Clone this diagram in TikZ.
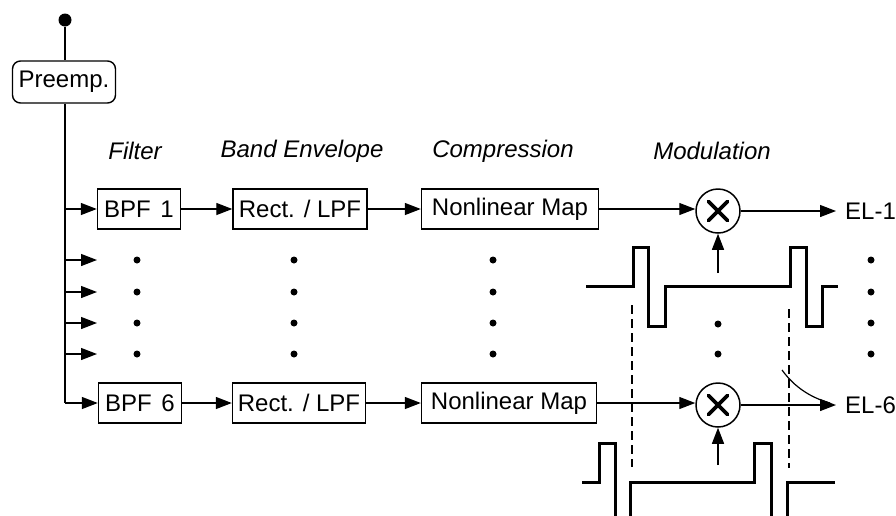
\documentclass[tikz,border=0pt]{standalone}
\usepackage{fontspec}
\setmainfont{Liberation Sans}
\usetikzlibrary{arrows.meta}
\begin{document}
\begin{tikzpicture}[x=1pt,y=-1pt,
  box/.style={draw,line width=1.4pt,minimum height=40pt,inner sep=0pt,font=\fontsize{24}{27}\selectfont},
  lab/.style={font=\fontsize{24}{27}\selectfont\itshape,inner sep=0pt},
  outlab/.style={font=\fontsize{24}{27}\selectfont,anchor=west,inner xsep=9pt,inner ysep=2pt},
  line/.style={line width=1.3pt},
  conn/.style={line width=1.3pt,-{Triangle[length=16pt,width=12pt]}},
  wave/.style={line width=3pt},
  mul/.style={draw,circle,line width=1.5pt,minimum size=44pt,inner sep=0pt},
  dashln/.style={line width=1.5pt,dash pattern=on 9pt off 5pt},
  dot/.style={circle,fill,inner sep=0pt,minimum size=7pt},
]
\useasboundingbox (0,0) rectangle (896,515);

% source and pre-emphasis
\node[circle,fill,inner sep=0pt,minimum size=13pt] (src) at (65,20) {};
\node[box,minimum width=103pt,minimum height=42pt,rounded corners=8pt] (pre) at (64,82) {Preemp.};
\coordinate (t1) at (65,209);
\coordinate (t6) at (65,403);
\draw[line] (src) -- (pre.north -| src);
\draw[line] (pre.south -| src) -- (t6);

% column labels
\node[lab] (lf) at (135,151) {Filter};
\node[lab] (lb) at (302,151) {Band Envelope};
\node[lab] (lc) at (503,151) {Compression};
\node[lab] (lm) at (712,151) {Modulation};

% row 1
\node[box,minimum width=83pt] (bpf1) at (139,209) {BPF\hspace{0.4em}1};
\node[box,minimum width=134pt] (rect1) at (300,209) {Rect. / LPF};
\node[box,minimum width=177pt] (nl1) at (510,209) {Nonlinear Map};
\node[mul] (mul1) at (718,211) {};
\node[outlab] (el1) at (836,211) {EL-1};
\draw[conn] (t1) -- (bpf1);
\draw[conn] (bpf1) -- (rect1);
\draw[conn] (rect1) -- (nl1);
\draw[conn] (nl1.east) -- (mul1.west |- nl1.east);
\draw[conn] (mul1) -- (el1);
\draw[line width=3.8pt,line cap=round] ([shift={(-9.5,-9.5)}]mul1.center) -- ([shift={(9.5,9.5)}]mul1.center)
  ([shift={(-9.5,9.5)}]mul1.center) -- ([shift={(9.5,-9.5)}]mul1.center);
\coordinate (c1) at (718,273);
\draw[conn] (c1) -- (mul1);

% row 6
\node[box,minimum width=83pt] (bpf6) at (140,403) {BPF\hspace{0.4em}6};
\node[box,minimum width=133pt] (rect6) at (299,403) {Rect. / LPF};
\node[box,minimum width=175pt] (nl6) at (509,403) {Nonlinear Map};
\node[mul] (mul6) at (718,405) {};
\node[outlab] (el6) at (836,405) {EL-6};
\draw[conn] (t6) -- (bpf6);
\draw[conn] (bpf6) -- (rect6);
\draw[conn] (rect6) -- (nl6);
\draw[conn] (nl6.east) -- (mul6.west |- nl6.east);
\draw[conn] (mul6) -- (el6);
\draw[line width=3.8pt,line cap=round] ([shift={(-9.5,-9.5)}]mul6.center) -- ([shift={(9.5,9.5)}]mul6.center)
  ([shift={(-9.5,9.5)}]mul6.center) -- ([shift={(9.5,-9.5)}]mul6.center);
\coordinate (c6) at (718,465);
\draw[conn] (c6) -- (mul6);

% intermediate channels
\foreach \y in {260,292,323,354}{
  \draw[conn] (65,\y) -- (97,\y);
  \node[dot] at (137,\y) {};
  \node[dot] at (294,\y) {};
  \node[dot] at (493,\y) {};
  \node[dot] at (871,\y) {};
}
\node[dot] at (718,324) {};
\node[dot] at (718,354) {};

% carrier waveforms
\draw[wave] (586,286) -- (633,286) -- (633,247) -- (648,247) -- (648,326) -- (665,326) -- (665,286)
  -- (790,286) -- (790,247) -- (806,247) -- (806,326) -- (822,326) -- (822,286) -- (838,286);
\draw[wave] (582,482) -- (599,482) -- (599,443) -- (615,443) -- (615,520);
\draw[wave] (630,520) -- (630,482) -- (754,482) -- (754,443) -- (771,443) -- (771,520);
\draw[wave] (787,520) -- (787,482) -- (835,482);

% timing marks
\draw[dashln] (632,305) -- (632,467);
\draw[dashln] (789,309) -- (789,468);

% stray mark near EL-6
\draw[line width=1.2pt] (782,370) .. controls (795,388) and (812,398) .. (830,403);
\end{tikzpicture}
\end{document}
